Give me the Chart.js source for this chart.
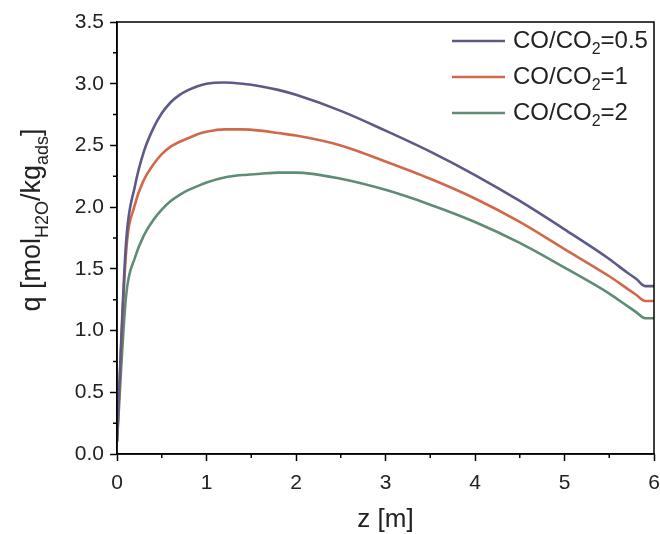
<!DOCTYPE html>
<html>
<head>
<meta charset="utf-8">
<script src="https://cdn.jsdelivr.net/npm/chart.js@4"></script>
<style>
  html, body { margin: 0; padding: 0; background: #fff; }
  #wrap { width: 660px; height: 534px; }
</style>
</head>
<body>
<div id="wrap"><canvas id="myChart" width="660" height="534"></canvas></div>
<script>
// z positions [m]
var zValues = [0, 0.1, 0.2, 0.3, 0.4, 0.5, 0.6, 0.7, 0.8, 0.9, 1.0, 1.2, 1.4, 1.6, 1.8, 2.0, 2.5, 3.0, 3.5, 4.0, 4.5, 5.0, 5.5, 5.7, 5.8, 5.9, 6.0];
// q [mol H2O / kg ads] per CO/CO2 ratio
var q05 = [0.10, 1.70, 2.17, 2.45, 2.63, 2.76, 2.85, 2.91, 2.95, 2.98, 3.00, 3.01, 3.00, 2.98, 2.95, 2.91, 2.78, 2.62, 2.45, 2.26, 2.05, 1.82, 1.58, 1.47, 1.42, 1.36, 1.36];
var q1  = [0.10, 1.62, 2.02, 2.22, 2.34, 2.43, 2.49, 2.53, 2.56, 2.59, 2.61, 2.63, 2.63, 2.62, 2.60, 2.58, 2.50, 2.37, 2.23, 2.07, 1.88, 1.66, 1.44, 1.34, 1.29, 1.24, 1.24];
var q2  = [0.10, 1.27, 1.59, 1.77, 1.89, 1.98, 2.05, 2.10, 2.14, 2.17, 2.20, 2.24, 2.26, 2.27, 2.28, 2.28, 2.23, 2.14, 2.02, 1.88, 1.71, 1.51, 1.30, 1.20, 1.15, 1.10, 1.10];

var seriesNames = ['0.5', '1', '2'];
var seriesColors = ['#5c5a86', '#d0694a', '#5f8c74'];

var xTicks = [0, 1, 2, 3, 4, 5, 6];
var yTicks = [0, 0.5, 1.0, 1.5, 2.0, 2.5, 3.0, 3.5];

var FONT = "'Liberation Sans', Arial, sans-serif";

function toPoints(ys) {
    return zValues.map(function (z, i) { return { x: z, y: ys[i] }; });
}

var allSeries = [q05, q1, q2];
var datasets = allSeries.map(function (ys, i) {
    return {
        label: 'CO/CO2=' + seriesNames[i],
        data: toPoints(ys),
        borderColor: seriesColors[i],
        borderWidth: 2.6,
        pointRadius: 0,
        fill: false,
        cubicInterpolationMode: 'monotone'
    };
});

// draws frame, minor ticks, axis titles and legend (with subscripts)
var extras = {
    id: 'extras',
    afterDraw: function (chart) {
        var ctx = chart.ctx;
        var a = chart.chartArea;
        var xs = chart.scales.x, ys = chart.scales.y;
        ctx.save();

        ctx.strokeStyle = '#000';
        ctx.lineWidth = 1.5;
        ctx.strokeRect(a.left, a.top, a.right - a.left, a.bottom - a.top);

        // minor ticks
        ctx.beginPath();
        for (var i = 0; i < xTicks.length - 1; i++) {
            var px = xs.getPixelForValue((xTicks[i] + xTicks[i + 1]) / 2);
            ctx.moveTo(px, a.bottom);
            ctx.lineTo(px, a.bottom + 4);
        }
        for (var j = 0; j < yTicks.length - 1; j++) {
            var py = ys.getPixelForValue((yTicks[j] + yTicks[j + 1]) / 2);
            ctx.moveTo(a.left, py);
            ctx.lineTo(a.left - 4, py);
        }
        ctx.stroke();

        ctx.fillStyle = '#222';

        // x title
        ctx.font = '26px ' + FONT;
        ctx.textAlign = 'center';
        ctx.textBaseline = 'middle';
        ctx.fillText('z [m]', (a.left + a.right) / 2, 520);

        // y title with subscripts
        var parts = [
            ['q [mol', false], ['H2O', true], ['/kg', false], ['ads', true], [']', false]
        ];
        var mainFont = '27px ' + FONT, subFont = '18px ' + FONT;
        var total = 0;
        parts.forEach(function (p) {
            ctx.font = p[1] ? subFont : mainFont;
            total += ctx.measureText(p[0]).width;
        });
        ctx.translate(40, 220);
        ctx.rotate(-Math.PI / 2);
        ctx.textAlign = 'left';
        ctx.textBaseline = 'alphabetic';
        var cx = -total / 2;
        parts.forEach(function (p) {
            ctx.font = p[1] ? subFont : mainFont;
            ctx.fillText(p[0], cx, p[1] ? 8 : 0);
            cx += ctx.measureText(p[0]).width;
        });
        ctx.setTransform(1, 0, 0, 1, 0, 0);

        // legend
        var rowY = [41, 77, 113];
        seriesNames.forEach(function (name, k) {
            var y = rowY[k];
            ctx.strokeStyle = seriesColors[k];
            ctx.lineWidth = 2.6;
            ctx.beginPath();
            ctx.moveTo(452, y);
            ctx.lineTo(505, y);
            ctx.stroke();
            ctx.fillStyle = '#222';
            ctx.textAlign = 'left';
            ctx.textBaseline = 'middle';
            var tx = 513;
            ctx.font = '24px ' + FONT;
            ctx.fillText('CO/CO', tx, y);
            tx += ctx.measureText('CO/CO').width;
            ctx.font = '16px ' + FONT;
            ctx.fillText('2', tx, y + 9);
            tx += ctx.measureText('2').width;
            ctx.font = '24px ' + FONT;
            ctx.fillText('=' + name, tx, y);
        });

        ctx.restore();
    }
};

var ctx = document.getElementById('myChart').getContext('2d');
var myChart = new Chart(ctx, {
    type: 'line',
    data: { datasets: datasets },
    options: {
        responsive: false,
        animation: false,
        layout: { padding: { top: 22, right: 6, left: 0, bottom: 0 } },
        plugins: {
            legend: { display: false },
            tooltip: { enabled: false }
        },
        scales: {
            x: {
                type: 'linear',
                min: 0,
                max: 6,
                afterFit: function (scale) {
                    scale.height = 80;
                    scale.paddingLeft = 0;
                    scale.paddingRight = 0;
                },
                afterBuildTicks: function (scale) {
                    scale.ticks = xTicks.map(function (v) { return { value: v }; });
                },
                border: { display: true, color: '#000', width: 1.5 },
                grid: { drawOnChartArea: false, drawTicks: true, tickLength: 7, tickColor: '#000', tickWidth: 1.5 },
                ticks: {
                    color: '#222',
                    font: { family: FONT, size: 21 },
                    padding: 10,
                    maxRotation: 0,
                    callback: function (v) { return String(v); }
                }
            },
            y: {
                min: 0,
                max: 3.5,
                afterFit: function (scale) { scale.width = 117; },
                afterBuildTicks: function (scale) {
                    scale.ticks = yTicks.map(function (v) { return { value: v }; });
                },
                border: { display: true, color: '#000', width: 1.5 },
                grid: { drawOnChartArea: false, drawTicks: true, tickLength: 7, tickColor: '#000', tickWidth: 1.5 },
                ticks: {
                    color: '#222',
                    font: { family: FONT, size: 21 },
                    padding: 6,
                    callback: function (v) { return Number(v).toFixed(1); }
                }
            }
        }
    },
    plugins: [extras]
});
</script>
</body>
</html>
